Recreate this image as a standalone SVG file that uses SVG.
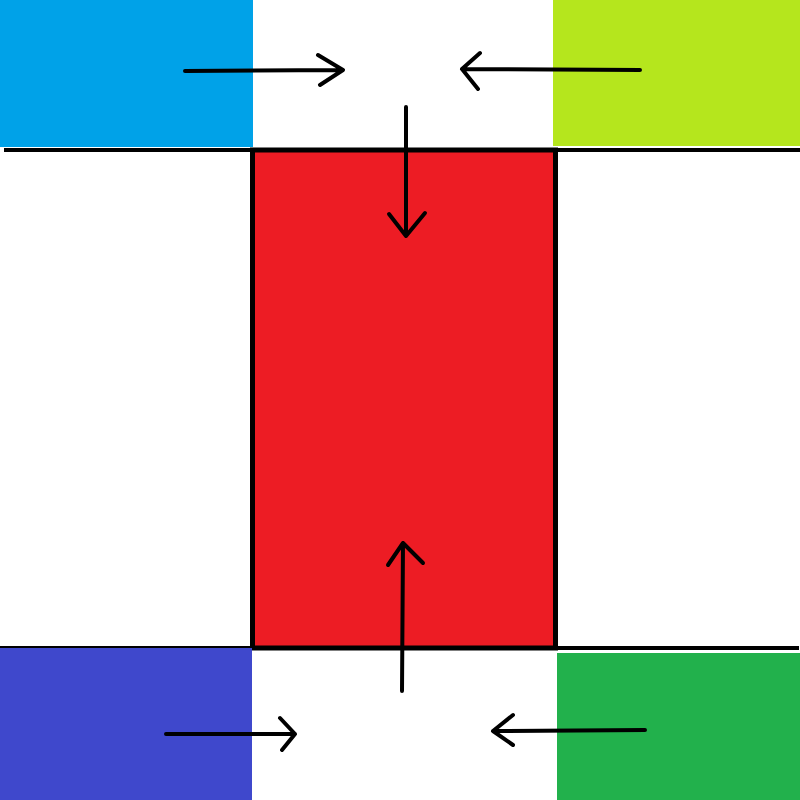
<svg xmlns="http://www.w3.org/2000/svg" width="800" height="800" viewBox="0 0 800 800">
<style>
.ln{stroke:#000;stroke-width:4;fill:none;stroke-linecap:round;stroke-linejoin:round}
.bar{stroke:#000;stroke-width:4;fill:none}
</style>
<rect width="800" height="800" fill="#fff"/>
<g id="blue"><rect x="0" y="0" width="253" height="147" fill="#00A2E8"/></g>
<g id="lime"><rect x="553" y="0" width="247" height="146" fill="#B5E61D"/></g>
<g id="dividers">
<line class="bar" x1="4" y1="150" x2="800" y2="150"/>
<line class="bar" x1="0" y1="648" x2="799" y2="648"/>
</g>
<g id="red"><rect x="252.5" y="150" width="303" height="498" fill="#ED1C24" stroke="#000" stroke-width="5"/></g>
<g id="purple"><rect x="0" y="648" width="252" height="152" fill="#3F48CC"/></g>
<g id="green"><rect x="557" y="653" width="243" height="147" fill="#22B14C"/></g>
<g id="connectors">
<path class="ln" d="M185,71 L343,70 M318,55 L343,70 L320,85"/>
<path class="ln" d="M640,70 L462,69 M480,53 L462,69 L478,89"/>
<path class="ln" d="M406,107 L406,236 M389,214 L406,236 L425,213"/>
<path class="ln" d="M402,691 L403,543 M388,565 L403,543 L423,563"/>
<path class="ln" d="M166,734 L295,734 M280,718 L295,734 L282,750"/>
<path class="ln" d="M645,730 L493,731 M513,715 L493,731 L513,745"/>
</g>
</svg>
